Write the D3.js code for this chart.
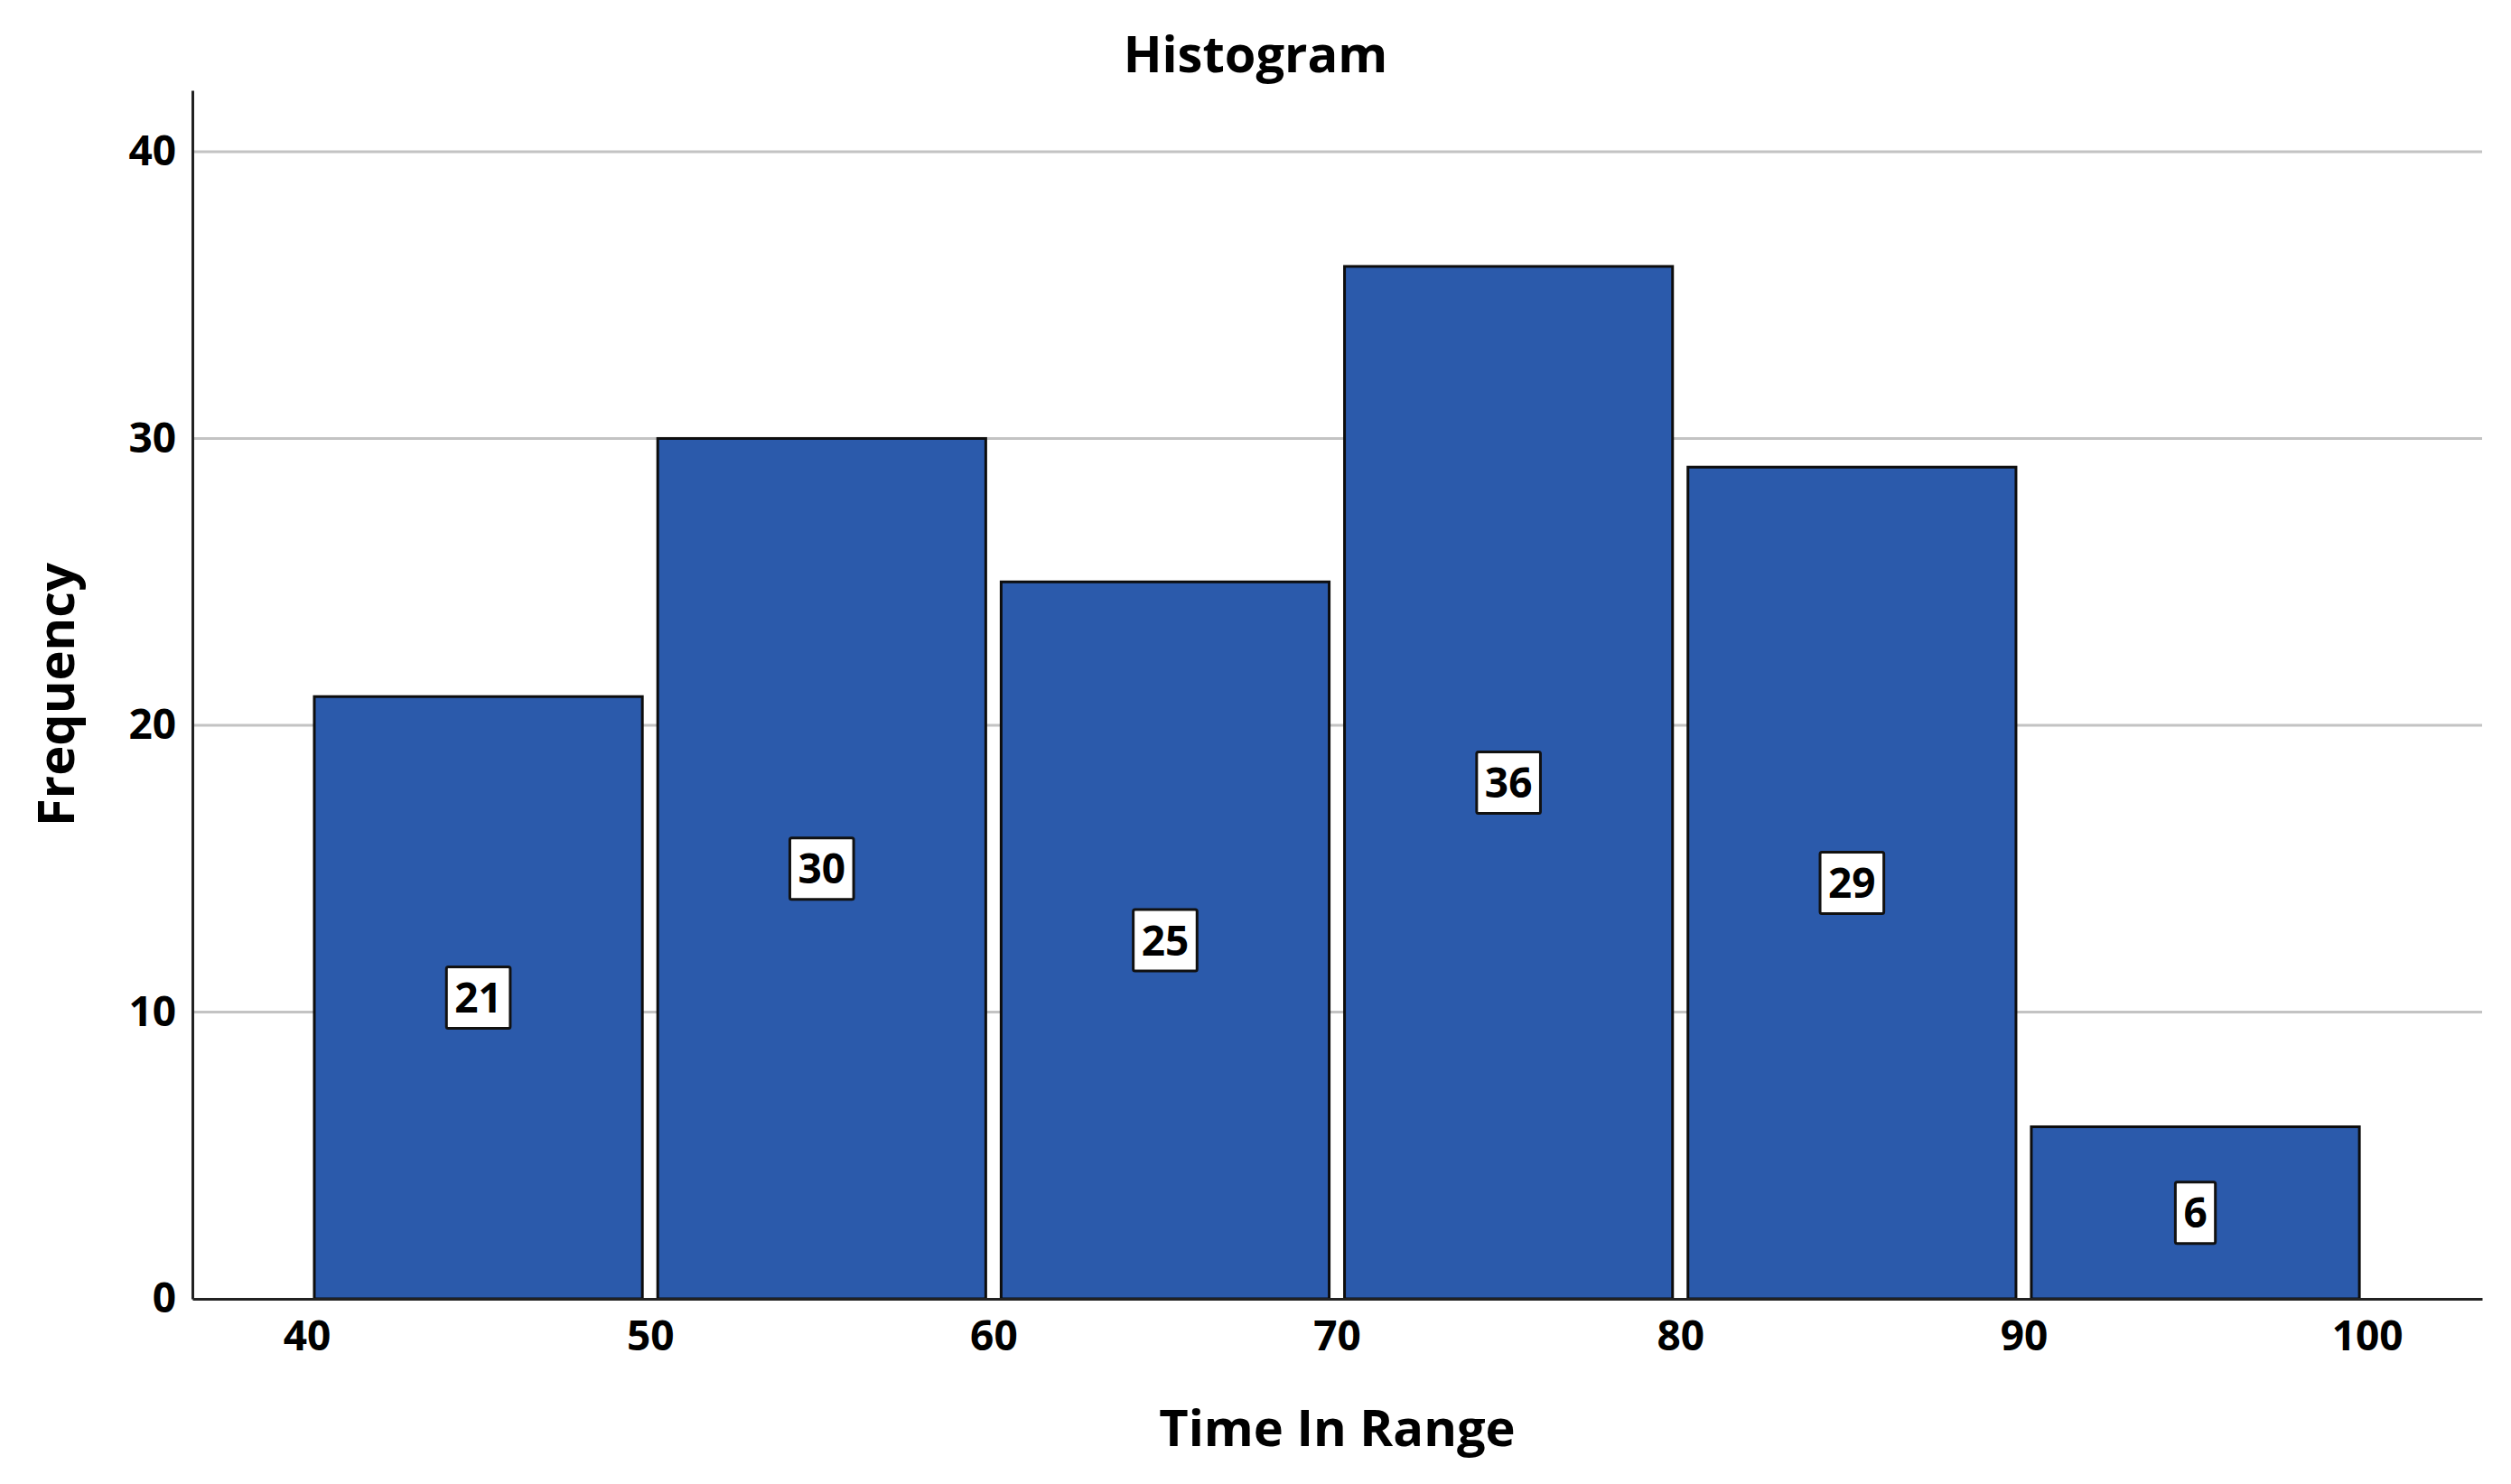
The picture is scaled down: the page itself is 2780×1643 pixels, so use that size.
<!DOCTYPE html>
<html>
<head>
<meta charset="utf-8">
<script src="https://cdn.jsdelivr.net/npm/d3@7"></script>
<style>
  html, body { margin: 0; padding: 0; background: #ffffff; }
  svg { display: block; }
  text { font-family: "Open Sans", "DejaVu Sans", sans-serif; font-weight: 700; fill: #000; }
</style>
</head>
<body>
<svg id="chart" width="2780" height="1643"></svg>
<script>
// ---- data ----
const binStarts = [40, 50, 60, 70, 80, 90];
const binEnds = [50, 60, 70, 80, 90, 100];
const frequencies = [21, 30, 25, 36, 29, 6];
const xTickValues = [40, 50, 60, 70, 80, 90, 100];
const yTickValues = [0, 10, 20, 30, 40];
const chartTitle = "Histogram";
const xTitle = "Time In Range";
const yTitle = "Frequency";

// ---- layout ----
const W = 2780, H = 1643;
const plot = { left: 213, right: 2748, top: 100, bottom: 1438 };
const barColor = "#2b5aab";
const gridColor = "#c3c3c3";
const barInset = 8.5;

const svg = d3.select("#chart");

const x = d3.scaleLinear().domain([36.673, 103.35]).range([plot.left, plot.right]);
const y = d3.scaleLinear().domain([0, 42.14]).range([plot.bottom, plot.top]);

const bins = binStarts.map((s, i) => ({ lo: s, hi: binEnds[i], n: frequencies[i] }));

// gridlines
svg.append("g")
  .selectAll("line")
  .data(yTickValues.filter(d => d > 0))
  .join("line")
  .attr("x1", plot.left).attr("x2", plot.right)
  .attr("y1", d => y(d)).attr("y2", d => y(d))
  .attr("stroke", gridColor).attr("stroke-width", 3);

// bars
svg.append("g")
  .selectAll("rect")
  .data(bins)
  .join("rect")
  .attr("x", d => x(d.lo) + barInset)
  .attr("width", d => x(d.hi) - x(d.lo) - 2 * barInset)
  .attr("y", d => y(d.n))
  .attr("height", d => y(0) - y(d.n))
  .attr("fill", barColor)
  .attr("stroke", "#0d0d0d")
  .attr("stroke-width", 3);

// axes
const xAxis = d3.axisBottom(x).tickValues(xTickValues).tickSize(0).tickPadding(24);
const yAxis = d3.axisLeft(y).tickValues(yTickValues).tickSize(0).tickPadding(18);

const gx = svg.append("g").attr("transform", `translate(0,${plot.bottom})`).call(xAxis);
gx.select(".domain").attr("stroke", "#222").attr("stroke-width", 3);
gx.selectAll("text").style("font-size", "46px").style("font-family", "'Open Sans', sans-serif").style("font-weight", 700);

const gy = svg.append("g").attr("transform", `translate(${plot.left},0)`).call(yAxis);
gy.select(".domain").attr("stroke", "#222").attr("stroke-width", 3);
gy.selectAll("text").style("font-size", "46px").style("font-family", "'Open Sans', sans-serif").style("font-weight", 700);

// value labels with boxes
const lg = svg.append("g");
bins.forEach(d => {
  const cx = x((d.lo + d.hi) / 2);
  const cy = y(d.n / 2);
  const g = lg.append("g");
  const t = g.append("text")
    .attr("x", cx).attr("y", cy)
    .attr("text-anchor", "middle")
    .attr("dy", "0.36em")
    .style("font-size", "46px")
    .text(d.n);
  const w = t.node().getComputedTextLength();
  const bw = w + 18, bh = 68;
  g.insert("rect", "text")
    .attr("x", cx - bw / 2).attr("y", cy - bh / 2)
    .attr("width", bw).attr("height", bh)
    .attr("rx", 2)
    .attr("fill", "#ffffff").attr("stroke", "#111").attr("stroke-width", 3);
});

// titles
svg.append("text")
  .attr("x", W / 2).attr("y", 80)
  .attr("text-anchor", "middle")
  .style("font-size", "56px")
  .text(chartTitle);

svg.append("text")
  .attr("x", (plot.left + plot.right) / 2).attr("y", 1601)
  .attr("text-anchor", "middle")
  .style("font-size", "56px")
  .text(xTitle);

svg.append("text")
  .attr("transform", `translate(82,${(plot.top + plot.bottom) / 2}) rotate(-90)`)
  .attr("text-anchor", "middle")
  .style("font-size", "56px")
  .text(yTitle);
</script>
</body>
</html>
